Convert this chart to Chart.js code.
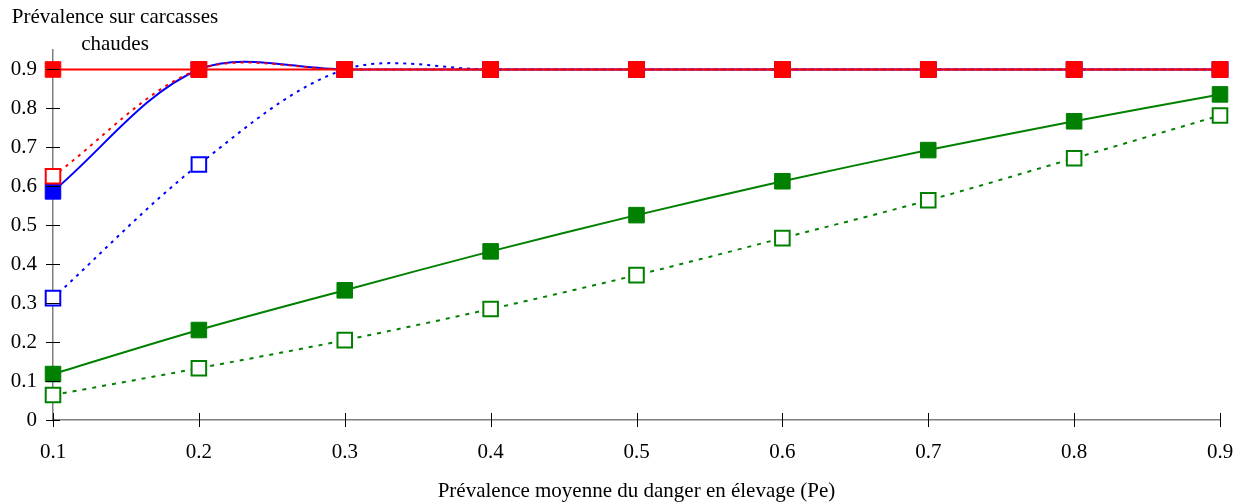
<!DOCTYPE html>
<html>
<head>
<meta charset="utf-8">
<script src="https://cdn.jsdelivr.net/npm/chart.js@4"></script>
<style>
  html, body { margin: 0; padding: 0; background: #fff; }
  #wrap { width: 1245px; height: 504px; }
</style>
</head>
<body>
<div id="wrap"><canvas id="chart" width="1245" height="504"></canvas></div>
<script>
// valeurs
var pe = [0.1, 0.2, 0.3, 0.4, 0.5, 0.6, 0.7, 0.8, 0.9];
var rougePlein = [0.9, 0.9, 0.9, 0.9, 0.9, 0.9, 0.9, 0.9, 0.9];
var rougeVide = [0.626, 0.9, 0.9, 0.9, 0.9, 0.9, 0.9, 0.9, 0.9];
var bleuPlein = [0.587, 0.9, 0.9, 0.9, 0.9, 0.9, 0.9, 0.9, 0.9];
var bleuVide = [0.313, 0.656, 0.9, 0.9, 0.9, 0.9, 0.9, 0.9, 0.9];
var vertPlein = [0.118, 0.231, 0.333, 0.433, 0.526, 0.613, 0.693, 0.767, 0.836];
var vertVide = [0.064, 0.133, 0.205, 0.285, 0.372, 0.467, 0.564, 0.672, 0.782];
var xTicks = [0.1, 0.2, 0.3, 0.4, 0.5, 0.6, 0.7, 0.8, 0.9];
var yTicks = [0, 0.1, 0.2, 0.3, 0.4, 0.5, 0.6, 0.7, 0.8, 0.9];
var yTitle = ['Prévalence sur carcasses', 'chaudes'];
var xTitle = 'Prévalence moyenne du danger en élevage (Pe)';

var police = '"Liberation Serif", "Times New Roman", serif';
var taille = 21;

function points(vals) {
    return vals.map(function (v, i) { return { x: pe[i], y: v }; });
}

function serie(vals, color, filled, dash) {
    return {
        data: points(vals),
        borderColor: color,
        borderWidth: 2,
        borderDash: dash || [],
        tension: 0.33,
        clip: false,
        pointStyle: 'rect',
        pointRadius: filled ? 11 : 10.3,
        pointBorderWidth: filled ? 1 : 2,
        pointBorderColor: color,
        pointBackgroundColor: filled ? color : '#ffffff',
        pointHoverRadius: 10
    };
}

// petits traits de graduation qui traversent les axes + titre vertical
var graduations = {
    id: 'graduations',
    afterDraw: function (chart) {
        var ctx = chart.ctx;
        var xs = chart.scales.x, ys = chart.scales.y;
        var area = chart.chartArea;
        ctx.save();
        ctx.strokeStyle = '#000';
        ctx.lineWidth = 1;
        ctx.beginPath();
        yTicks.forEach(function (t) {
            var y = Math.round(ys.getPixelForValue(t)) + 0.5;
            ctx.moveTo(area.left - 7, y);
            ctx.lineTo(area.left + 7, y);
        });
        xTicks.forEach(function (t) {
            var x = Math.round(xs.getPixelForValue(t)) + 0.5;
            ctx.moveTo(x, area.bottom - 7);
            ctx.lineTo(x, area.bottom + 7);
        });
        ctx.stroke();

        ctx.fillStyle = '#000';
        ctx.font = taille + 'px ' + police;
        ctx.textAlign = 'center';
        ctx.textBaseline = 'middle';
        ctx.fillText(yTitle[0], 115, 17);
        ctx.fillText(yTitle[1], 115, 44);
        ctx.restore();
    }
};

var ctx = document.getElementById('chart').getContext('2d');
var chart = new Chart(ctx, {
    type: 'line',
    data: {
        datasets: [
            serie(rougePlein, '#ff0000', true),
            serie(rougeVide, '#ff0000', false, [3, 5]),
            serie(bleuPlein, '#0000ff', true),
            serie(bleuVide, '#0000ff', false, [3, 5]),
            serie(vertPlein, '#008000', true),
            serie(vertVide, '#008000', false, [4, 6])
        ]
    },
    options: {
        responsive: false,
        animation: false,
        layout: { padding: { left: 0, right: 25, top: 50, bottom: 0 } },
        plugins: {
            legend: { display: false },
            tooltip: { enabled: false }
        },
        scales: {
            x: {
                type: 'linear',
                min: 0.1,
                max: 0.9,
                afterBuildTicks: function (s) { s.ticks = xTicks.map(function (v) { return { value: v }; }); },
                afterFit: function (s) { s.height = 84; s.paddingRight = 0; },
                grid: { display: false, drawTicks: false, tickLength: 0 },
                border: { display: true, color: '#7f7f7f', width: 1.5 },
                ticks: {
                    color: '#000',
                    padding: 20,
                    maxRotation: 0,
                    font: { family: police, size: taille },
                    callback: function (v) { return String(Math.round(v * 10) / 10); }
                },
                title: {
                    display: true,
                    text: xTitle,
                    color: '#000',
                    font: { family: police, size: taille },
                    padding: { top: 8, bottom: 0 }
                }
            },
            y: {
                type: 'linear',
                min: 0,
                max: 0.95,
                afterBuildTicks: function (s) { s.ticks = yTicks.map(function (v) { return { value: v }; }); },
                afterFit: function (s) { s.width = 53; },
                grid: { display: false, drawTicks: false, tickLength: 0 },
                border: { display: true, color: '#7f7f7f', width: 1.5 },
                ticks: {
                    color: '#000',
                    padding: 16,
                    font: { family: police, size: taille },
                    callback: function (v) { return String(Math.round(v * 10) / 10); }
                }
            }
        }
    },
    plugins: [graduations]
});
</script>
</body>
</html>
